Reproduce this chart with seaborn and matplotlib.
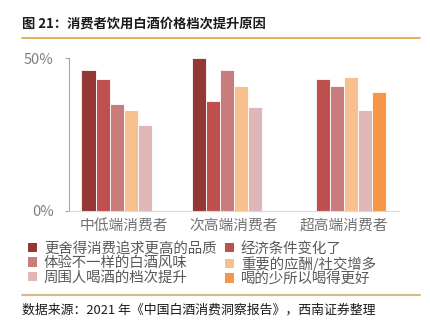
import numpy as np
import pandas as pd
import matplotlib
matplotlib.use("Agg")
import matplotlib.pyplot as plt
import seaborn as sns
from matplotlib.lines import Line2D
from matplotlib.patches import Patch

categories = ["中低端消费者", "次高端消费者", "超高端消费者"]
reasons = ["更舍得消费追求更高的品质", "经济条件变化了", "体验不一样的白酒风味",
           "重要的应酬/社交增多", "周围人喝酒的档次提升", "喝的少所以喝得更好"]
v_quality = [0.461, 0.501, np.nan]
v_economy = [0.430, 0.358, 0.430]
v_taste = [0.350, 0.461, 0.409]
v_social = [0.330, 0.409, 0.437]
v_peers = [0.280, 0.339, 0.331]
v_less = [np.nan, np.nan, 0.390]
colors = ["#953735", "#C0504D", "#C87C7B", "#F9C08F", "#DFB7B7", "#F79646"]

series = [v_quality, v_economy, v_taste, v_social, v_peers, v_less]
rows = []
for r, vals in zip(reasons, series):
    for c, v in zip(categories, vals):
        rows.append({"cat": c, "reason": r, "val": v})
df = pd.DataFrame(rows)

sns.set_theme(style="white")
plt.rcParams["font.family"] = ["Noto Sans CJK SC", "DejaVu Sans"]

fig = plt.figure(figsize=(4.3, 3.3), dpi=100)
ax = fig.add_axes([0.160, 0.3615, 0.768, 0.4627])

sns.barplot(data=df, x="cat", y="val", hue="reason", order=categories,
            hue_order=reasons, palette=colors, saturation=1, width=0.77,
            errorbar=None, edgecolor="white", linewidth=0.6, ax=ax, legend=False)

ax.set_ylim(0, 0.5)
ax.set_xlim(-0.5, 2.5)
ax.set_yticks([0, 0.5])
ax.set_yticklabels(["0%", "50%"], color="#808080", fontsize=10.5)
ax.set_xticks([0, 1, 2])
ax.set_xticklabels(categories, color="#737373", fontsize=10.6)
ax.set_xticks([-0.5, 0.5, 1.5, 2.5], minor=True)
ax.tick_params(axis="x", which="major", length=0, pad=6)
ax.tick_params(axis="x", which="minor", length=4, color="#D9D9D9", width=0.8, direction="out")
ax.tick_params(axis="y", length=3, color="#A6A6A6", width=0.8, left=True, pad=8)
ax.set_xlabel("")
ax.set_ylabel("")
for s in ["top", "right"]:
    ax.spines[s].set_visible(False)
ax.spines["left"].set_color("#A6A6A6")
ax.spines["left"].set_linewidth(0.8)
ax.spines["bottom"].set_color("#D9D9D9")
ax.spines["bottom"].set_linewidth(0.8)

handles = [Patch(facecolor=c, edgecolor="none") for c in colors]
order = [0, 2, 4, 1, 3, 5]
leg = fig.legend([handles[i] for i in order], [reasons[i] for i in order],
                 ncol=2, loc="upper left", bbox_to_anchor=(0.065, 0.268),
                 frameon=False, fontsize=10.4, handlelength=0.65, handleheight=0.65,
                 handletextpad=0.45, labelspacing=0.03, columnspacing=0.6,
                 borderpad=0, borderaxespad=0)
for t in leg.get_texts():
    t.set_color("#595959")

fig.text(0.051, 0.930, "图 21：消费者饮用白酒价格档次提升原因", fontsize=9.5,
         fontweight="bold", color="#1a1a1a", va="center", ha="left")
fig.add_artist(Line2D([0.051, 0.977], [0.885, 0.885], color="#E0A030", lw=1.2,
                      transform=fig.transFigure))
fig.add_artist(Line2D([0.051, 0.977], [0.106, 0.106], color="#D9B98A", lw=1.5,
                      transform=fig.transFigure))
fig.text(0.051, 0.061, "数据来源：2021 年《中国白酒消费洞察报告》，西南证券整理",
         fontsize=9.3, color="#1a1a1a", va="center", ha="left", style="italic")

fig.savefig("out.png", dpi=100, facecolor="white")
